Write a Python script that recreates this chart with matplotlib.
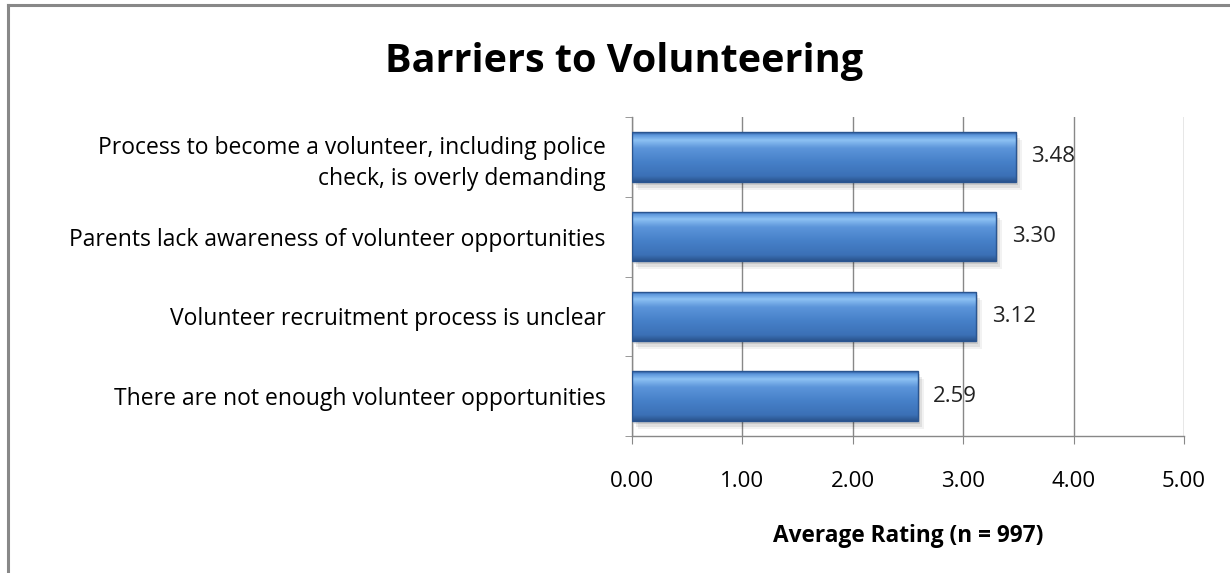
import matplotlib
matplotlib.use("Agg")
import matplotlib.pyplot as plt
import matplotlib.transforms as mtransforms
from matplotlib.colors import LinearSegmentedColormap
from matplotlib.lines import Line2D
import numpy as np

plt.rcParams['font.family'] = ['Open Sans', 'DejaVu Sans']

categories = [
    "There are not enough volunteer opportunities",
    "Volunteer recruitment process is unclear",
    "Parents lack awareness of volunteer opportunities",
    "Process to become a volunteer, including police\ncheck, is overly demanding",
]
ratings = [2.59, 3.12, 3.30, 3.48]
xticks = [0, 1, 2, 3, 4, 5]

fig = plt.figure(figsize=(12.3, 5.73), dpi=100)
ax = fig.add_axes([0.5138, 0.2391, 0.4488, 0.5567])

ypos = np.arange(len(categories))
bar_h = 0.62

# glossy blue fill, light band near the top, darker toward the bottom
bar_cmap = LinearSegmentedColormap.from_list(
    "gloss",
    [(0.0, "#2b5a9c"), (0.06, "#5d97dc"), (0.16, "#8dc1f3"), (0.32, "#5c95da"),
     (0.6, "#4680c8"), (0.88, "#3b70b6"), (1.0, "#29528c")])
grad = np.linspace(0, 1, 256).reshape(-1, 1)

# soft drop shadow built from a few faint offset copies
for dx, dy, a in [(2, -3, 0.10), (4, -6, 0.08), (6, -8, 0.05)]:
    shadow = mtransforms.offset_copy(ax.transData, fig=fig, x=dx, y=dy, units='dots')
    ax.barh(ypos, ratings, height=bar_h, color="#000000", alpha=a,
            transform=shadow, zorder=2, linewidth=0)
bars = ax.barh(ypos, ratings, height=bar_h, facecolor="none",
               edgecolor="#2a5590", linewidth=1.0, zorder=4)
for b in bars:
    x0, y0, w, h = b.get_x(), b.get_y(), b.get_width(), b.get_height()
    im = ax.imshow(grad, extent=[x0, x0 + w, y0, y0 + h], aspect='auto',
                   cmap=bar_cmap, zorder=3, interpolation='bilinear')
    im.set_clip_path(b)

for y, v in zip(ypos, ratings):
    ax.annotate(f"{v:.2f}", (v, y), xytext=(11, 0), textcoords='offset points',
                va='center', ha='left', fontsize=16, color="#222222", zorder=5)

ax.set_xlim(0, 5)
ax.set_ylim(-0.5, len(categories) - 0.5)
ax.set_xticks(xticks)
ax.set_xticklabels([f"{t:.2f}" for t in xticks], fontsize=16)
ax.set_yticks(ypos)
ax.set_yticklabels(categories, fontsize=16.5, linespacing=1.42)
ax.set_yticks(np.arange(-0.5, len(categories)), minor=True)
ax.tick_params(axis='y', which='major', length=0, pad=19)
ax.tick_params(axis='y', which='minor', length=5, color="#888888", direction='out')
ax.tick_params(axis='x', length=6, color="#888888", direction='out', pad=19)

ax.grid(axis='x', color="#888888", linewidth=1.0, zorder=0)
ax.set_axisbelow(True)
for s in ['top', 'right']:
    ax.spines[s].set_visible(False)
for s in ['left', 'bottom']:
    ax.spines[s].set_color("#888888")
    ax.spines[s].set_linewidth(1.0)

ax.set_xlabel("Average Rating (n = 997)", fontsize=16.3, fontweight='bold', labelpad=23)

fig.text(0.507, 0.892, "Barriers to Volunteering", ha='center', va='center',
         fontsize=28.5, fontweight='bold')

# chart frame: only the top and left edges fall inside the image
fig.add_artist(Line2D([0.0065, 1.0], [0.991, 0.991], transform=fig.transFigure,
                      color="#888888", linewidth=2.2))
fig.add_artist(Line2D([0.0065, 0.0065], [0.0, 0.991], transform=fig.transFigure,
                      color="#888888", linewidth=2.2))

fig.savefig("out.png", dpi=100)
